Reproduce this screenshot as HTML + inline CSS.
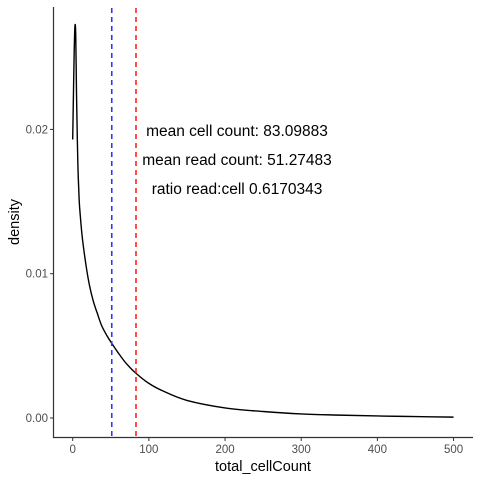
<!DOCTYPE html>
<html><head><meta charset="utf-8"><style>
body{margin:0;background:#fff}
svg{display:block;font-family:"Liberation Sans",Arial,sans-serif}
</style></head><body>
<svg id="chart" width="480" height="480">
<rect width="480" height="480" fill="#fff"/>
<g id="marks"></g>
<g id="axes"></g>
<g id="ann"></g>
</svg>
<script>
const xVals=[0,1,2,3,4,5,6,7,8.5,10,12,14,18,22,27,32,38,45,51,60,70,83,100,119,150,200,250,300,350,400,450,500];
const yVals=[.0193,.0225,.0255,.0272,.0265,.0225,.0195,.0172,.0151,.0140,.0128,.0119,.0104,.0092,.0081,.0073,.0064,.0057,.0052,.0045,.0038,.0031,.0024,.00186,.00122,.0007,.00045,.00028,.0002,.00014,.0001,.00006];
const xTicks=[0,100,200,300,400,500];
const yTicks=[0,0.01,0.02];
const yTickLabels=["0.00","0.01","0.02"];
const meanRead=51.27483;
const meanCell=83.09883;
const annLines=["mean cell count: 83.09883","mean read count: 51.27483","ratio read:cell 0.6170343"];

const NS="http://www.w3.org/2000/svg";
const X=v=>72.7+v*0.7617;
const Y=v=>418-v*14430;
function mk(t,a,p){const e=document.createElementNS(NS,t);for(const k in a)e.setAttribute(k,a[k]);p.appendChild(e);return e;}
const marks=document.getElementById('marks'),axes=document.getElementById('axes'),ann=document.getElementById('ann');

const pts=xVals.map((x,i)=>[X(x),Y(yVals[i])]);
let d=`M${pts[0][0]},${pts[0][1]}`;
for(let i=0;i<pts.length-1;i++){
 const p0=pts[Math.max(0,i-1)],p1=pts[i],p2=pts[i+1],p3=pts[Math.min(pts.length-1,i+2)];
 const c1=[p1[0]+(p2[0]-p0[0])/6,p1[1]+(p2[1]-p0[1])/6];
 const c2=[p2[0]-(p3[0]-p1[0])/6,p2[1]-(p3[1]-p1[1])/6];
 d+=` C${c1[0]},${c1[1]} ${c2[0]},${c2[1]} ${p2[0]},${p2[1]}`;
}
const curve=mk('path',{d,fill:'none',stroke:'#000','stroke-width':1.4},marks);



const vb=mk('line',{x1:X(meanRead),x2:X(meanRead),y1:8,y2:437,stroke:'#3333ff','stroke-width':1.6,'stroke-dasharray':'5,4'},marks);


const vr=mk('line',{x1:X(meanCell),x2:X(meanCell),y1:8,y2:437,stroke:'#ff2222','stroke-width':1.6,'stroke-dasharray':'5,4'},marks);



const xa=mk('line',{x1:53,x2:473,y1:437.5,y2:437.5,stroke:'#333','stroke-width':1.2},axes);


const ya=mk('line',{x1:53.5,x2:53.5,y1:7,y2:438,stroke:'#333','stroke-width':1.2},axes);


xTicks.forEach(v=>{
 mk('line',{x1:X(v),x2:X(v),y1:438,y2:441,stroke:'#333'},axes);
 const t=mk('text',{x:X(v),y:453,'text-anchor':'middle','font-size':11.5,fill:'#4d4d4d'},axes);
 t.textContent=v;
 
 
});
yTicks.forEach((v,i)=>{
 mk('line',{x1:50,x2:53,y1:Y(v),y2:Y(v),stroke:'#333'},axes);
 const t=mk('text',{x:48,y:Y(v)+4,'text-anchor':'end','font-size':11.5,fill:'#4d4d4d'},axes);
 t.textContent=yTickLabels[i];
 
 
});
const xt=mk('text',{x:263,y:471,'text-anchor':'middle','font-size':14.5,fill:'#000'},axes);
xt.textContent='total_cellCount';


const yt=mk('text',{x:0,y:0,'text-anchor':'middle','font-size':14.5,fill:'#000',transform:'translate(19,222) rotate(-90)'},axes);
yt.textContent='density';



annLines.forEach((s,i)=>{
 const t=mk('text',{x:237,y:136+i*29,'text-anchor':'middle','font-size':15.5,fill:'#000'},ann);
 t.textContent=s;
 
 
});
</script>
</body></html>
